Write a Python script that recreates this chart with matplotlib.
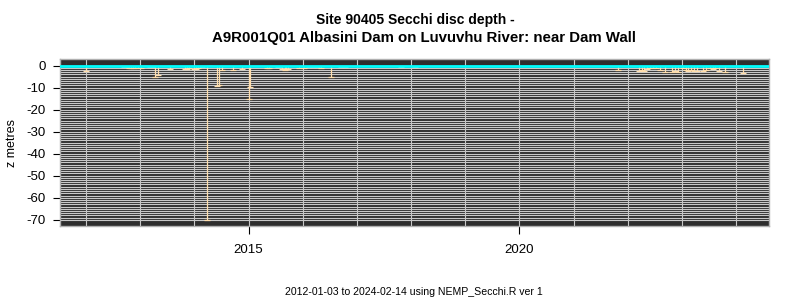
# plot.py
# Secchi disc depth record for site 90405 (Albasini Dam), drawn as
# drop lines from the surface down to each measured depth.

import pandas as pd
import matplotlib
matplotlib.use("Agg")
import matplotlib.pyplot as plt
import matplotlib.dates as mdates

plt.rcParams["font.family"] = ["Liberation Sans", "DejaVu Sans"]
plt.rcParams["axes.unicode_minus"] = False

# sample dates and Secchi depths (metres)
dates = [
    "2012-01-03", "2012-09-13", "2012-09-27", "2012-10-19", "2012-10-31",
    "2012-11-13", "2012-11-27", "2012-12-17", "2013-01-08", "2013-01-27",
    "2013-02-17", "2013-03-10", "2013-03-22", "2013-04-12", "2013-05-01",
    "2013-07-23", "2013-11-01", "2013-11-13", "2013-11-27", "2014-01-01",
    "2014-01-14", "2014-01-27", "2014-02-24", "2014-03-28", "2014-04-11",
    "2014-04-23", "2014-06-05", "2014-06-18", "2014-07-08", "2014-09-20",
    "2014-11-20", "2015-01-01", "2015-01-14", "2015-05-08", "2015-05-22",
    "2015-07-16", "2015-07-28", "2015-08-18", "2015-09-01", "2015-09-13",
    "2015-09-27", "2015-12-05", "2016-01-08", "2016-02-10", "2016-03-10",
    "2016-04-04", "2016-05-01", "2016-07-08", "2016-09-13", "2016-10-12",
    "2017-10-23", "2018-01-26", "2021-10-30", "2022-03-20", "2022-04-04",
    "2022-04-18", "2022-05-08", "2022-05-29", "2022-06-18", "2022-07-08",
    "2022-08-04", "2022-09-09", "2022-10-23", "2022-11-13", "2022-12-05",
    "2023-01-08", "2023-01-27", "2023-02-10", "2023-03-03", "2023-03-22",
    "2023-04-12", "2023-05-22", "2023-06-10", "2023-07-08", "2023-07-27",
    "2023-08-10", "2023-09-09", "2023-10-20", "2024-02-14",
]
depths = [
    2.4, 0.8, 0.8, 1.3, 1.3,
    1.2, 1.0, 1.3, 1.2, 0.3,
    0.3, 0.5, 0.8, 5.0, 4.2,
    1.5, 1.5, 1.4, 1.3, 1.6,
    1.4, 1.0, 0.5, 70.0, 0.4,
    0.4, 9.4, 8.6, 1.8, 1.8,
    1.4, 15.2, 9.9, 1.3, 1.3,
    0.6, 0.6, 1.5, 1.8, 1.4,
    1.7, 1.0, 1.0, 0.6, 0.8,
    0.8, 1.2, 5.0, 0.8, 0.6,
    0.7, 0.7, 2.2, 2.3, 1.9,
    2.6, 1.4, 1.2, 1.0, 1.2,
    2.1, 2.7, 2.7, 2.5, 2.7,
    0.9, 2.0, 2.6, 1.8, 2.3,
    2.3, 2.3, 2.1, 1.3, 1.5,
    1.2, 2.5, 2.9, 3.4,
]
y_ticks = [0, -10, -20, -30, -40, -50, -60, -70]

TITLE_1 = "Site 90405 Secchi disc depth -"
TITLE_2 = "A9R001Q01 Albasini Dam on Luvuvhu River: near Dam Wall"
FOOTER = "2012-01-03 to 2024-02-14 using NEMP_Secchi.R ver 1"

LINE_COL = "#FFDEAD"
GRID_COL = "#C8C8C8"
BG_COL = "#2E2E2E"


def main():
    t = pd.to_datetime(dates)
    z = [-d for d in depths]

    fig = plt.figure(figsize=(8, 3), dpi=100)
    ax = fig.add_axes([0.075, 0.247, 0.886, 0.555])
    ax.set_facecolor(BG_COL)

    # drop lines from the surface to each depth, with a small cap
    ax.vlines(t, 0, z, color=LINE_COL, lw=0.9, zorder=3)
    ax.plot(t, z, ls="none", marker="_", ms=5, mew=0.9, color=LINE_COL, zorder=3)
    ax.axhline(0, color="#00FFFF", lw=2, zorder=4)

    # R-style 4% padding around the data range
    x0, x1 = mdates.date2num(t.min()), mdates.date2num(t.max())
    pad = (x1 - x0) * 0.04
    ax.set_xlim(x0 - pad, x1 + pad)
    ax.set_ylim(-72.8, 2.8)

    ax.xaxis.set_major_locator(mdates.YearLocator(5))
    ax.xaxis.set_major_formatter(mdates.DateFormatter("%Y"))
    ax.xaxis.set_minor_locator(mdates.YearLocator(1))
    ax.set_yticks(y_ticks)
    ax.set_yticks(range(-70, 1), minor=True)

    ax.set_axisbelow(True)
    ax.grid(True, which="both", color=GRID_COL, lw=0.8)
    ax.tick_params(which="minor", length=0)
    ax.tick_params(axis="y", which="major", length=5, width=0.8, pad=5, labelsize=9.5)
    ax.tick_params(axis="x", which="major", length=6, width=0.8, pad=7, labelsize=9.5)

    for s in ax.spines.values():
        s.set_color("#B0B0B0")
        s.set_linewidth(1.0)

    ax.set_ylabel("z metres", fontsize=9, labelpad=6)

    fig.text(0.519, 0.933, TITLE_1, ha="center", va="center",
             fontsize=10, fontweight="bold")
    fig.text(0.53, 0.873, TITLE_2, ha="center", va="center",
             fontsize=10.8, fontweight="bold")
    fig.text(0.517, 0.027, FOOTER, ha="center", va="center", fontsize=7.6)

    fig.savefig("out.png", dpi=100)
    plt.close(fig)


if __name__ == "__main__":
    main()
